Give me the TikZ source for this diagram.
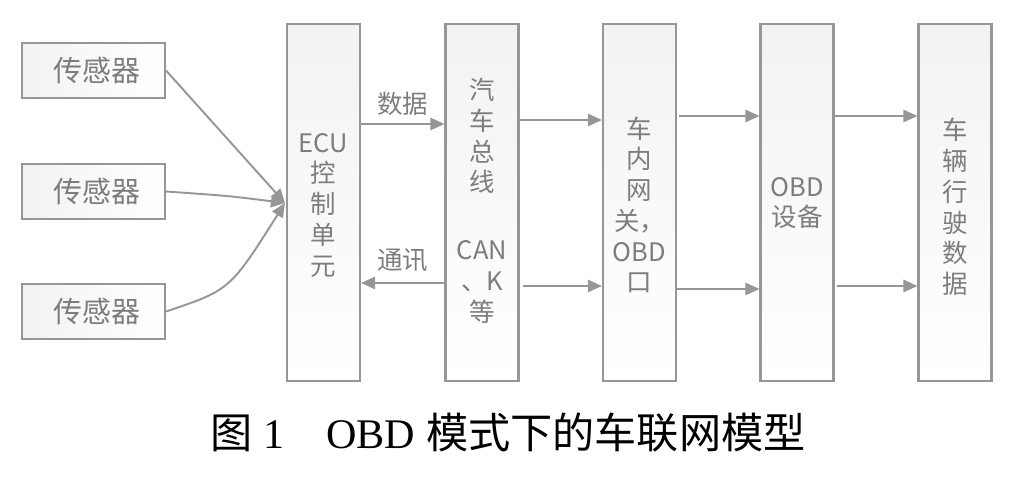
\documentclass[tikz,border=0pt]{standalone}
\usepackage{fontspec}
\setmainfont{Liberation Serif}
\newfontfamily\cjk{Noto Sans CJK SC}
\usetikzlibrary{arrows.meta}
\definecolor{linegray}{RGB}{150,150,150}
\definecolor{textgray}{RGB}{125,125,125}
\tikzset{
  sensorbox/.style={draw=linegray, line width=1.2pt, minimum width=2.86cm, minimum height=1.1cm, left color=gray!10, right color=white, inner sep=0pt},
  colbox/.style={draw=linegray, line width=1.2pt, minimum width=1.46cm, minimum height=7.14cm, top color=gray!10, bottom color=white, inner sep=0pt},
  boxtext/.style={text=textgray, font=\cjk\fontsize{14.5}{17.5}\selectfont, align=center, inner sep=0pt},
  flow/.style={draw=linegray, line width=1.1pt, -{Triangle[length=8pt,width=7pt]}}
}
\begin{document}
\begin{tikzpicture}[x=0.02cm,y=-0.02cm]
\useasboundingbox (0,0) rectangle (1036,500);
% sensors
\node[sensorbox] (s1) at (93.5,70.5) {};
\node[sensorbox] (s2) at (93.5,191.5) {};
\node[sensorbox] (s3) at (93.5,311.5) {};
\node[boxtext, font=\cjk\fontsize{16.5}{17}\selectfont] (t1) at (97,70.5) {传感器};
\node[boxtext, font=\cjk\fontsize{16.5}{17}\selectfont] (t2) at (97,191.5) {传感器};
\node[boxtext, font=\cjk\fontsize{16.5}{17}\selectfont] (t3) at (97,311.5) {传感器};
% columns
\node[colbox] (ecu) at (323.5,202.5) {};
\node[colbox] (bus) at (482,202.5) {};
\node[colbox] (gw) at (639.5,202.5) {};
\node[colbox] (obd) at (797,202.5) {};
\node[colbox] (veh) at (955,202.5) {};
\node[boxtext] (ecutext) at (323.5,205) {ECU\\控\\制\\单\\元};
\node[boxtext] (bustext1) at (482,136) {汽\\车\\总\\线};
\node[boxtext] (bustext2) at (482,282) {CAN\\、K\\等};
\node[boxtext] (gwtext) at (639.5,205) {车\\内\\网\\关，\\OBD\\口};
\node[boxtext] (obdtext) at (797,203) {OBD\\设备};
\node[boxtext] (vehtext) at (955,207) {车\\辆\\行\\驶\\数\\据};
% connectors
\coordinate (hub) at (285,203);
\draw[flow] (s1.east) -- (hub);
\draw[flow] (s2.east) .. controls (230,196) .. (hub);
\draw[flow] (s3.east) .. controls (230,290) .. (hub);
\draw[flow] (ecu.east |- 0,124) -- node[above=4pt, boxtext] (data) {数据} (bus.west |- 0,124);
\draw[flow] (bus.west |- 0,283) -- node[above=6pt, boxtext] (comm) {通讯} (ecu.east |- 0,283);
\draw[flow] (bus.east |- 0,120) -- (gw.west |- 0,120);
\draw[flow] (523,286) -- (gw.west |- 0,286);
\draw[flow] (679,116) -- (obd.west |- 0,116);
\draw[flow] (677,289) -- (obd.west |- 0,289);
\draw[flow] (obd.east |- 0,116) -- (veh.west |- 0,116);
\draw[flow] (837,286) -- (veh.west |- 0,286);
% caption
\node[font=\fontsize{24}{28}\selectfont] (caption) at (508,433) {{\cjk 图} 1\quad OBD {\cjk 模式下的车联网模型}};
\end{tikzpicture}
\end{document}
